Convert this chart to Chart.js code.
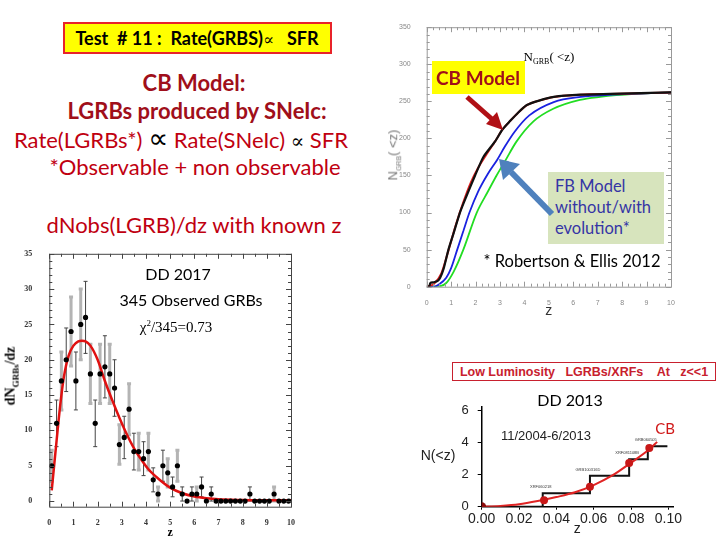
<!DOCTYPE html>
<html>
<head>
<meta charset="utf-8">
<script src="https://cdn.jsdelivr.net/npm/chart.js@4.4.1/dist/chart.umd.min.js"></script>
<style>
body{margin:0;width:720px;height:540px;position:relative;background:#fff;overflow:hidden;font-family:Lato,sans-serif}
.t{position:absolute;white-space:nowrap;transform:translate(-50%,-50%);line-height:1}
.cv{position:absolute}
.rot{position:absolute;white-space:nowrap;transform:translate(-50%,-50%) rotate(-90deg);line-height:1}
</style>
</head>
<body>

<canvas id="c1" class="cv" width="300" height="300" style="left:0;top:240px"></canvas>
<canvas id="c2" class="cv" width="300" height="305" style="left:385px;top:15px"></canvas>
<canvas id="c3" class="cv" width="300" height="150" style="left:420px;top:390px"></canvas>

<!-- left text block -->
<div style="position:absolute;left:63px;top:22px;width:265px;height:28px;background:#ffff00;border:2.5px solid #e8232a"></div>
<div class="t" style="left:197px;top:38px;font-weight:bold;font-size:18px;color:#000;white-space:pre">Test  # 11 :  Rate(GRBS)<span style="font-weight:normal;font-family:'DejaVu Serif';font-size:16px">∝</span>   SFR</div>
<div class="t" style="left:194px;top:83px;font-weight:bold;font-size:22px;color:#a00f1a">CB Model:</div>
<div class="t" style="left:197px;top:111px;font-weight:bold;font-size:22px;color:#a00f1a">LGRBs produced by SNeIc:</div>
<div class="t" style="left:181px;top:139px;font-size:22px;color:#c00010">Rate(LGRBs*) <span style="color:#000;font-family:'DejaVu Sans';font-size:28px;line-height:0.8">∝</span> Rate(SNeIc) <span style="color:#000;font-family:'DejaVu Serif';font-size:20px">∝</span> SFR</div>
<div class="t" style="left:195px;top:167px;font-size:22px;color:#c00010">*Observable + non observable</div>
<div class="t" style="left:194px;top:225px;font-size:22px;color:#c00010">dNobs(LGRB)/dz with known z</div>

<!-- chart 1 labels -->
<div class="t" style="left:178px;top:274px;font-size:16px;color:#000">DD 2017</div>
<div class="t" style="left:191px;top:300px;font-size:16px;color:#000">345 Observed GRBs</div>
<div class="t" style="left:176px;top:327px;font-size:15px;color:#000;font-family:'Liberation Serif'">χ<sup style="font-size:9px">2</sup>/345=0.73</div>
<div class="rot" style="left:12px;top:376px;font-size:14px;font-weight:bold;font-family:'Liberation Serif'">dN<sub style="font-size:9px">GRBs</sub>/dz</div>

<!-- chart 2 labels -->
<div class="rot" style="left:394px;top:155px;font-size:13px;color:#777;font-family:'Liberation Sans'">N<sub style="font-size:7px">GRB</sub>( &lt;z)</div>
<div class="t" style="left:549px;top:58px;font-size:13px;color:#000;font-family:'Liberation Serif'">N<sub style="font-size:8px">GRB</sub>( &lt;z)</div>
<div style="position:absolute;left:432px;top:61px;width:93px;height:33px;background:#ffff00"></div>
<div class="t" style="left:478px;top:77px;font-size:19px;font-weight:bold;color:#a00f1a">CB Model</div>
<div style="position:absolute;left:548px;top:172px;width:116px;height:72px;background:#d7e4bd"></div>
<div style="position:absolute;left:555px;top:176px;font-size:16.5px;line-height:21px;color:#3535a5">FB Model<br>without/with<br>evolution*</div>
<div class="t" style="left:572px;top:261px;font-size:16.5px;color:#000">* Robertson &amp; Ellis 2012</div>

<!-- chart 3 labels -->
<div style="position:absolute;left:452px;top:362px;width:262px;height:17px;border:1.5px solid #c8202e"></div>
<div class="t" style="left:584px;top:372px;font-size:12.5px;font-weight:bold;color:#c8202e;font-family:'Liberation Sans';white-space:pre">Low Luminosity   LGRBs/XRFs    At   z&lt;&lt;1</div>
<div class="t" style="left:570px;top:400px;font-size:16px;color:#000">DD 2013</div>
<div class="t" style="left:546px;top:435px;font-size:13px;color:#222;font-family:'Liberation Sans'">11/2004-6/2013</div>
<div class="t" style="left:665px;top:428px;font-size:15px;color:#d01818">CB</div>
<div class="t" style="left:438px;top:455px;font-size:14px;color:#222;font-family:'Liberation Sans'">N(&lt;z)</div>

<svg style="position:absolute;left:0;top:0" width="720" height="540">
  <line x1="467" y1="97" x2="493" y2="120" stroke="#b01015" stroke-width="5"/>
  <polygon points="503,130 486,124 497,112" fill="#b01015"/>
  <line x1="552" y1="214" x2="511" y2="172" stroke="#4f81bd" stroke-width="6"/>
  <polygon points="499,159 503,180 520,164" fill="#4f81bd"/>
</svg>

<script>
// ---- dN/dz of GRBs with known z (DD 2017) ----
var zBins = [0.1,0.3,0.5,0.7,0.9,1.1,1.3,1.5,1.7,1.9,2.1,2.3,2.5,2.7,2.9,3.1,3.3,3.5,3.7,3.9,
             4.1,4.3,4.5,4.7,4.9,5.1,5.3,5.5,5.7,5.9,6.1,6.3,6.5,6.7,6.9,7.1,7.3,7.5,7.7,7.9,
             8.1,8.3,8.5,8.7,8.9,9.1,9.3,9.5,9.7,9.9];
var nObs = [5,11,17,20,24,17,25,26,18,11,18,19,18,16,8,9,13,7,7,6,
            7,3,1,5,4,2,5,1,0,1,1,2,0,1,0,0,0,0,0,0,
            0,1,0,0,0,0,1,0,0,0];
var nErr = [2.2,3.3,4.1,4.5,4.9,4.1,5,5.1,4.2,3.3,4.2,4.4,4.2,4,2.8,3,3.6,2.6,2.6,2.4,
            2.6,1.7,1,2.2,2,1.4,2.2,1,0,1,1,1.4,0,1,0,0,0,0,0,0,
            0,1,0,0,0,0,1,0,0,0];
var zModel = [0.1,0.2,0.3,0.45,0.6,0.8,1.0,1.2,1.35,1.5,1.7,2.0,2.3,2.6,2.9,3.2,3.5,3.8,4.1,4.5,5.0,5.5,6.0,6.5,7.0,8.0,9.0,10];
var dnModel = [1.5,5,8.5,13.5,17.5,20.6,22,22.6,22.7,22.6,22,20,17,14.3,11.8,9.5,7.5,5.9,4.5,3.2,1.9,1.1,0.65,0.4,0.25,0.15,0.1,0.1];
var yTicks1 = [0,5,10,15,20,25,30,35];
var xTicks1 = [0,1,2,3,4,5,6,7,8,9,10];

// ---- N_GRB(<z) ----
var zData = [0,0.1,0.15,0.3,0.45,0.55,0.7,0.89,1.1,1.36,1.6,1.98,2.32,2.8,3.1,3.4,3.75,4.1,4.6,5.2,6.3,7.5,10];
var nData = [0,0,5,6,8,12,25,50,72,100,120,150,175,196,212,223,235,245,251,256,259,260,262];
var zCB = [0,0.3,0.6,0.9,1.2,1.5,1.8,2.1,2.4,2.8,3.1,3.4,3.75,4.1,4.6,5.2,6.3,7.5,10];
var nCB = [0,4,18,50,84,114,140,160,176,196,212,223,235,245,251,256,259,260,262];
var zFB1 = [0,0.3,0.5,0.8,1.0,1.25,1.5,1.75,2.1,2.5,2.9,3.2,3.6,4.2,5.2,6.3,7.6,10];
var nFB1 = [0,0,3,12,25,50,75,100,128,152,172,189,209,231,249,256,259,262];
var zFB2 = [0,0.4,0.8,1.1,1.5,2.05,2.5,2.86,3.2,3.68,4.37,5.18,6.27,7.1,8.5,10];
var nFB2 = [0,0,5,20,50,100,128,150,169,196,223,240,252,256,260,262];
var yTicks2 = [0,50,100,150,200,250,300,350];

// ---- low luminosity LGRBs (DD 2013) ----
var zStep = [0,0.0327,0.058,0.079,0.089,0.0995];
var nStep = [0,0.84,1.94,2.97,3.78,3.78];
var grbNames = ['XRF060218','GRB100316D','XRF081108B','GRB060505'];
var zObs3 = [0,0.0334,0.058,0.079,0.0898];
var nObs3 = [0,0.4,1.25,2.73,3.66];
var zCB3 = [0,0.01,0.02,0.03,0.04,0.05,0.06,0.07,0.08,0.09,0.094];
var nCB3 = [0,0.05,0.15,0.35,0.6,0.9,1.35,1.95,2.75,3.6,4.05];
var xTicks3 = [0,0.02,0.04,0.06,0.08,0.10];

Chart.defaults.font.family = 'Liberation Sans';
Chart.defaults.animation = false;

function pts(xs, ys) {
  return xs.map(function(x, i) { return {x: x, y: ys[i]}; });
}
function fixTicks(list) {
  return function(s) { s.ticks = list.map(function(v) { return {value: v}; }); };
}

// box round the plot, with small inner ticks
function framePlugin(color, xStep, xMajor, yStep, yMajor) {
  return {
    id: 'frame',
    afterDatasetsDraw: function(chart) {
      var a = chart.chartArea, ctx = chart.ctx;
      var xs = chart.scales.x, ys = chart.scales.y;
      ctx.save();
      ctx.strokeStyle = color;
      ctx.lineWidth = 1;
      ctx.strokeRect(a.left + 0.5, a.top + 0.5, a.right - a.left, a.bottom - a.top);
      ctx.beginPath();
      for (var v = xs.min; v <= xs.max + 1e-9; v += xStep) {
        var p = Math.round(xs.getPixelForValue(v)) + 0.5;
        var len = Math.abs(v / xMajor - Math.round(v / xMajor)) < 1e-6 ? 5 : 3;
        ctx.moveTo(p, a.bottom); ctx.lineTo(p, a.bottom - len);
        ctx.moveTo(p, a.top); ctx.lineTo(p, a.top + len);
      }
      for (var w = 0; w <= ys.max + 1e-9; w += yStep) {
        var q = Math.round(ys.getPixelForValue(w)) + 0.5;
        var l2 = Math.abs(w / yMajor - Math.round(w / yMajor)) < 1e-6 ? 5 : 3;
        ctx.moveTo(a.left, q); ctx.lineTo(a.left + l2, q);
        ctx.moveTo(a.right, q); ctx.lineTo(a.right - l2, q);
      }
      ctx.stroke();
      ctx.restore();
    }
  };
}

// error bars on the dN/dz points
var errBars = {
  id: 'errBars',
  beforeDatasetsDraw: function(chart) {
    var ctx = chart.ctx, xs = chart.scales.x, ys = chart.scales.y;
    ctx.save();
    zBins.forEach(function(z, i) {
      if (!nErr[i]) return;
      var px = xs.getPixelForValue(z);
      var top = ys.getPixelForValue(nObs[i] + nErr[i]);
      var bot = ys.getPixelForValue(nObs[i] - nErr[i]);
      var gray = i % 2 === 0;
      ctx.strokeStyle = gray ? '#b4b4b4' : '#444';
      ctx.lineWidth = gray ? 3 : 1;
      ctx.beginPath();
      ctx.moveTo(px, top); ctx.lineTo(px, bot);
      ctx.moveTo(px - 2, top); ctx.lineTo(px + 2, top);
      ctx.moveTo(px - 2, bot); ctx.lineTo(px + 2, bot);
      ctx.stroke();
    });
    ctx.restore();
  }
};

new Chart(document.getElementById('c1'), {
  type: 'scatter',
  data: {
    datasets: [{
      data: pts(zBins, nObs),
      pointRadius: 2.6,
      backgroundColor: '#000',
      borderWidth: 0,
      order: 1
    }, {
      type: 'line',
      data: pts(zModel, dnModel),
      borderColor: '#e01010',
      borderWidth: 2.5,
      pointRadius: 0,
      cubicInterpolationMode: 'monotone',
      order: 2
    }]
  },
  options: {
    responsive: false,
    layout: {padding: {top: 9, right: 9, left: 0, bottom: 0}},
    plugins: {legend: {display: false}, tooltip: {enabled: false}},
    scales: {
      x: {
        type: 'linear', min: 0, max: 10,
        afterBuildTicks: fixTicks(xTicks1),
        afterFit: function(s) { s.height = 33.3; },
        grid: {display: false}, border: {display: false},
        ticks: {padding: 3, font: {family: 'Liberation Serif', size: 8, weight: 'bold'}, color: '#333'},
        title: {display: true, text: 'z', padding: {top: 0, bottom: 0}, font: {family: 'Liberation Serif', size: 12, weight: 'bold'}, color: '#000'}
      },
      y: {
        min: -0.8, max: 35,
        afterBuildTicks: fixTicks(yTicks1),
        afterFit: function(s) { s.width = 49.3; },
        grid: {display: false}, border: {display: false},
        ticks: {padding: 9, font: {family: 'Liberation Serif', size: 8, weight: 'bold'}, color: '#333'}
      }
    }
  },
  plugins: [errBars, framePlugin('#444', 0.5, 1, 1, 5)]
});

// first dataset is drawn on top: black data curve, then CB model, then FB curves
new Chart(document.getElementById('c2'), {
  type: 'line',
  data: {
    datasets: [{
      data: pts(zData, nData), borderColor: '#111', borderWidth: 2.2, cubicInterpolationMode: 'default', tension: 0.2
    }, {
      data: pts(zCB, nCB), borderColor: '#e02020', borderWidth: 2
    }, {
      data: pts(zFB1, nFB1), borderColor: '#1a22e0', borderWidth: 1.8
    }, {
      data: pts(zFB2, nFB2), borderColor: '#22dd22', borderWidth: 1.8
    }]
  },
  options: {
    responsive: false,
    layout: {padding: {top: 11.7, right: 14, left: 0, bottom: 0}},
    elements: {point: {radius: 0}, line: {cubicInterpolationMode: 'monotone'}},
    plugins: {legend: {display: false}, tooltip: {enabled: false}},
    scales: {
      x: {
        type: 'linear', min: 0, max: 10,
        afterBuildTicks: fixTicks(xTicks1),
        afterFit: function(s) { s.height = 33.3; },
        grid: {display: false}, border: {display: false},
        ticks: {padding: 4, font: {size: 7}, color: '#888'},
        title: {display: true, text: 'z', padding: {top: 4, bottom: 0}, font: {size: 14}, color: '#333'}
      },
      y: {
        min: 0, max: 350,
        afterBuildTicks: fixTicks(yTicks2),
        afterFit: function(s) { s.width = 41.7; },
        grid: {display: false}, border: {display: false},
        ticks: {padding: 8, font: {size: 7}, color: '#888'}
      }
    }
  },
  plugins: [framePlugin('#999', 0.25, 1, 10, 50)]
});

// GRB names above each step
var stepLabels = {
  id: 'stepLabels',
  afterDatasetsDraw: function(chart) {
    var ctx = chart.ctx, xs = chart.scales.x, ys = chart.scales.y;
    ctx.save();
    ctx.font = '4px Liberation Sans';
    ctx.fillStyle = '#333';
    ctx.textAlign = 'center';
    grbNames.forEach(function(n, i) {
      ctx.fillText(n, xs.getPixelForValue(zStep[i + 1]) - 2, ys.getPixelForValue(nStep[i + 1]) - 5);
    });
    ctx.restore();
  }
};

new Chart(document.getElementById('c3'), {
  type: 'scatter',
  data: {
    datasets: [{
      data: pts(zObs3, nObs3),
      pointRadius: [4.5, 4, 4, 4, 4],
      backgroundColor: ['#8a0a0a', '#c81818', '#c81818', '#c81818', '#c81818'],
      borderWidth: 0,
      order: 1
    }, {
      type: 'line',
      data: pts(zCB3, nCB3),
      borderColor: '#e02424', borderWidth: 2, pointRadius: 0,
      cubicInterpolationMode: 'monotone',
      order: 2
    }, {
      type: 'line',
      data: pts(zStep, nStep),
      borderColor: '#111', borderWidth: 2, pointRadius: 0,
      stepped: true,
      order: 3
    }]
  },
  options: {
    responsive: false,
    layout: {padding: {top: 11.7, right: 47, left: 0, bottom: 0}},
    plugins: {legend: {display: false}, tooltip: {enabled: false}},
    scales: {
      x: {
        type: 'linear', min: 0, max: 0.1025,
        afterBuildTicks: fixTicks(xTicks3),
        afterFit: function(s) { s.height = 33.3; },
        grid: {display: true, drawOnChartArea: false, drawTicks: true, tickLength: 3, color: '#000'},
        border: {display: true, color: '#000', width: 1.5},
        ticks: {padding: 1, font: {size: 14}, color: '#222', callback: function(v) { return v.toFixed(2); }},
        title: {display: true, text: 'z', padding: {top: 0, bottom: 2}, font: {size: 14}, color: '#222'}
      },
      y: {
        min: 0, max: 6.24,
        afterBuildTicks: fixTicks([0,1,2,3,4,5,6]),
        afterFit: function(s) { s.width = 61.7; },
        grid: {display: true, drawOnChartArea: false, drawTicks: true, tickLength: 4, color: '#000'},
        border: {display: true, color: '#000', width: 1.5},
        ticks: {padding: 9, font: {size: 13}, color: '#222', callback: function(v) { return v % 2 === 0 ? v : ''; }}
      }
    }
  },
  plugins: [stepLabels]
});
</script>
</body>
</html>
